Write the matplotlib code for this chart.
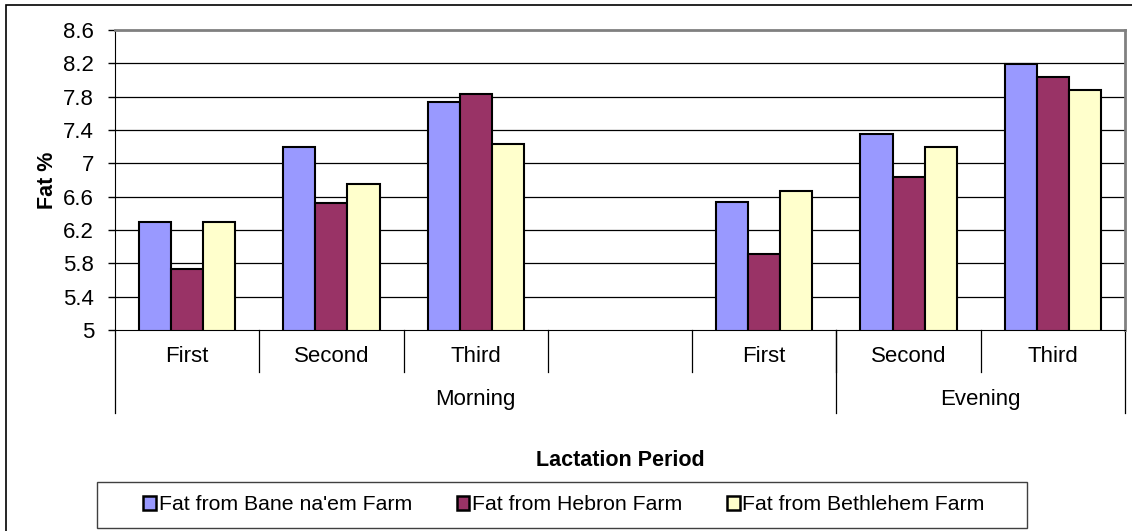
import matplotlib
matplotlib.use("Agg")
import matplotlib.pyplot as plt
import numpy as np
from matplotlib.patches import Patch, Rectangle
from matplotlib.transforms import blended_transform_factory

plt.rcParams["font.family"] = ["Liberation Sans", "DejaVu Sans"]

# lactation period categories (blank slot kept as in the sheet)
periods = ["First", "Second", "Third", "", "First", "Second", "Third"]
groups = ["Morning", "Evening"]
group_sizes = [5, 2]

series_names = ["Fat from Bane na'em Farm", "Fat from Hebron Farm", "Fat from Bethlehem Farm"]
bane = [6.30, 7.19, 7.74, np.nan, 6.53, 7.35, 8.19]
hebron = [5.73, 6.52, 7.83, np.nan, 5.91, 6.84, 8.04]
bethlehem = [6.30, 6.75, 7.23, np.nan, 6.67, 7.20, 7.88]
colors = ["#9999FF", "#993366", "#FFFFCC"]

y_ticks = [5, 5.4, 5.8, 6.2, 6.6, 7, 7.4, 7.8, 8.2, 8.6]
y_tick_labels = ["5", "5.4", "5.8", "6.2", "6.6", "7", "7.4", "7.8", "8.2", "8.6"]

W, H = 1132, 531
fig = plt.figure(figsize=(W / 100, H / 100), dpi=100)
ax = fig.add_axes([115 / W, 1 - 330 / H, 1010 / W, 300 / H])

x = np.arange(len(periods))
bw = 1 / 4.5
for i, (vals, col) in enumerate(zip([bane, hebron, bethlehem], colors)):
    vals = np.asarray(vals, dtype=float)
    ok = np.isfinite(vals)
    ax.bar(x[ok] + (i - 1) * bw, vals[ok], width=bw, color=col,
           edgecolor="black", linewidth=1.5, zorder=3)

ax.set_xlim(-0.5, len(periods) - 0.5)
ax.set_ylim(5, 8.6)
ax.set_yticks(y_ticks)
ax.set_yticklabels(y_tick_labels)
ax.tick_params(axis="y", direction="out", length=5, width=1, labelsize=16, pad=10)
ax.set_xticks([])
for yv in y_ticks[1:-1]:
    ax.axhline(yv, color="black", linewidth=0.9, zorder=1)

ax.spines["left"].set_color("black")
ax.spines["bottom"].set_color("black")
ax.spines["bottom"].set_zorder(4)
for s in ["top", "right"]:
    ax.spines[s].set_color("#808080")
    ax.spines[s].set_linewidth(2)

ax.set_ylabel("Fat %", fontsize=15.5, fontweight="bold", labelpad=4)

# two-level category axis
tr = blended_transform_factory(ax.transData, ax.transAxes)
for k in range(1, len(periods)):
    ax.plot([k - 0.5, k - 0.5], [0, -0.14], color="black", linewidth=0.9,
            transform=tr, clip_on=False)
for xi, lab in zip(x, periods):
    ax.text(xi, -0.09, lab, transform=tr, ha="center", va="center", fontsize=16)

start = 0
edges = [-0.5]
for g, n in zip(groups, group_sizes):
    ax.text(start + (n - 1) / 2, -0.2333, g, transform=tr, ha="center",
            va="center", fontsize=16)
    start += n
    edges.append(start - 0.5)
for e in edges:
    ax.plot([e, e], [0, -0.2767], color="black", linewidth=0.9,
            transform=tr, clip_on=False)

fig.text(620 / W, 1 - 460 / H, "Lactation Period", ha="center", va="center",
         fontsize=15.5, fontweight="bold")

# legend with its own frame
handles = [Patch(facecolor=c, edgecolor="black", linewidth=1.8) for c in colors]
fig.legend(handles, series_names, loc="center", bbox_to_anchor=(564 / W, 1 - 505 / H),
           ncol=3, frameon=False, fontsize=15.3, handlelength=0.6, handleheight=0.6,
           handletextpad=0.12, columnspacing=2.1)
fig.add_artist(Rectangle((97 / W, 1 - 528 / H), 930 / W, 46 / H, transform=fig.transFigure,
                         fill=False, edgecolor="#404040", linewidth=1))

# outer chart border
fig.add_artist(Rectangle((6 / W, -0.05), 1.1, 1.05 - 5 / H, transform=fig.transFigure,
                         fill=False, edgecolor="black", linewidth=1.2))

fig.savefig("out.png", dpi=100)
